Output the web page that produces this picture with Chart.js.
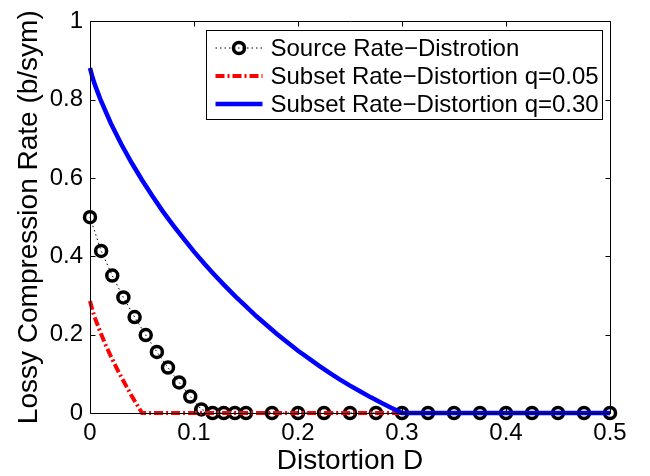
<!DOCTYPE html>
<html>
<head>
<meta charset="utf-8">
<script src="https://cdn.jsdelivr.net/npm/chart.js@4.4.1/dist/chart.umd.min.js"></script>
<style>
  html, body { margin: 0; padding: 0; background: #fff; }
  #wrap { width: 650px; height: 476px; }
</style>
</head>
<body>
<div id="wrap"><canvas id="c" width="650" height="476"></canvas></div>
<script>
// ---- data ----
const xTickValues = [0, 0.1, 0.2, 0.3, 0.4, 0.5];
const yTickValues = [0, 0.2, 0.4, 0.6, 0.8, 1];

const seriesLabels = [
  'Source Rate\u2212Distrotion',
  'Subset Rate\u2212Distortion q=0.05',
  'Subset Rate\u2212Distortion q=0.30'
];

const sourceD = [0, 0.0107, 0.0214, 0.0321, 0.0429, 0.0536, 0.0643, 0.075, 0.0857, 0.0964,
  0.1071, 0.1179, 0.1286, 0.1393, 0.15, 0.175, 0.2, 0.225, 0.25, 0.275, 0.3, 0.325, 0.35,
  0.375, 0.4, 0.425, 0.45, 0.475, 0.5];
const sourceR = [0.5, 0.414, 0.351, 0.295, 0.245, 0.199, 0.156, 0.116, 0.078, 0.042,
  0.009, 0, 0, 0, 0, 0, 0, 0, 0, 0, 0, 0, 0, 0, 0, 0, 0, 0, 0];

const q05D = [0, 0.0025, 0.005, 0.01, 0.015, 0.02, 0.025, 0.03, 0.035, 0.04, 0.045, 0.05, 0.5];
const q05R = [0.286, 0.261, 0.241, 0.206, 0.174, 0.145, 0.118, 0.092, 0.068, 0.044, 0.022, 0, 0];

const q30D = [0, 0.0025, 0.005, 0.01, 0.02, 0.03, 0.04, 0.05, 0.06, 0.07, 0.08, 0.09, 0.10,
  0.11, 0.12, 0.13, 0.14, 0.15, 0.16, 0.17, 0.18, 0.19, 0.20, 0.21, 0.22, 0.23, 0.24, 0.25,
  0.26, 0.27, 0.28, 0.29, 0.30, 0.5];
const q30R = [0.881, 0.856, 0.836, 0.801, 0.740, 0.687, 0.639, 0.595, 0.554, 0.515, 0.479,
  0.445, 0.412, 0.381, 0.352, 0.324, 0.297, 0.272, 0.247, 0.224, 0.201, 0.180, 0.159, 0.140,
  0.121, 0.103, 0.086, 0.070, 0.055, 0.040, 0.026, 0.013, 0, 0];

// ---- helpers ----
const FONT = "'Liberation Sans', Arial, Helvetica, sans-serif";
const pts = (xs, ys) => xs.map((x, i) => ({ x: x, y: ys[i] }));
const fmt = v => String(+Number(v).toFixed(2));

// frame with inward ticks on all four sides (MATLAB style)
const framePlugin = {
  id: 'frame',
  afterDatasetsDraw(chart) {
    const { ctx, chartArea: a, scales } = chart;
    const L = Math.round(a.left) + 0.5, R = Math.round(a.right) + 0.5;
    const T = Math.round(a.top) + 0.5, B = Math.round(a.bottom) + 0.5;
    const tl = 5;
    ctx.save();
    ctx.strokeStyle = '#000';
    ctx.lineWidth = 1;
    ctx.setLineDash([]);
    ctx.beginPath();
    ctx.rect(L, T, R - L, B - T);
    xTickValues.forEach(v => {
      const px = Math.round(scales.x.getPixelForValue(v)) + 0.5;
      ctx.moveTo(px, B); ctx.lineTo(px, B - tl);
      ctx.moveTo(px, T); ctx.lineTo(px, T + tl);
    });
    yTickValues.forEach(v => {
      const py = Math.round(scales.y.getPixelForValue(v)) + 0.5;
      ctx.moveTo(L, py); ctx.lineTo(L + tl, py);
      ctx.moveTo(R, py); ctx.lineTo(R - tl, py);
    });
    ctx.stroke();
    ctx.restore();
  }
};

// legend box inside the plot, top-right
const boxLegend = {
  id: 'boxLegend',
  afterDraw(chart) {
    const { ctx, chartArea: a } = chart;
    const w = 396, h = 89;
    const x0 = Math.round(a.right) - 8 - w + 0.5;
    const y0 = Math.round(a.top) + 9 + 0.5;
    ctx.save();
    ctx.fillStyle = '#fff';
    ctx.fillRect(x0, y0, w, h);
    ctx.strokeStyle = '#000';
    ctx.lineWidth = 1;
    ctx.setLineDash([]);
    ctx.strokeRect(x0, y0, w, h);
    const rows = [17, 45, 73];
    const sx0 = x0 + 9, sx1 = x0 + 56, tx = x0 + 64;
    chart.data.datasets.forEach((ds, i) => {
      const yy = Math.round(y0 + rows[i]);
      ctx.save();
      ctx.strokeStyle = ds.borderColor;
      ctx.lineWidth = ds.borderWidth;
      ctx.setLineDash(ds.borderDash || []);
      ctx.beginPath();
      ctx.moveTo(sx0, yy);
      ctx.lineTo(sx1, yy);
      ctx.stroke();
      if (ds.pointRadius > 0) {
        ctx.setLineDash([]);
        ctx.lineWidth = ds.pointBorderWidth;
        ctx.strokeStyle = ds.pointBorderColor;
        ctx.beginPath();
        ctx.arc((sx0 + sx1) / 2, yy, ds.pointRadius, 0, Math.PI * 2);
        ctx.stroke();
      }
      ctx.restore();
      ctx.fillStyle = '#000';
      ctx.font = '24px ' + FONT;
      ctx.textAlign = 'left';
      ctx.textBaseline = 'middle';
      ctx.fillText(ds.label, tx, yy + 1);
    });
    ctx.restore();
  }
};

const ctx = document.getElementById('c').getContext('2d');
new Chart(ctx, {
  type: 'scatter',
  data: {
    datasets: [
      {
        label: seriesLabels[0],
        data: pts(sourceD, sourceR),
        showLine: true,
        borderColor: '#000',
        borderWidth: 1,
        borderDash: [1.5, 3],
        pointRadius: 5.5,
        pointBorderWidth: 3.5,
        pointBorderColor: '#000',
        pointBackgroundColor: 'rgba(0,0,0,0)',
        pointHoverRadius: 5.5,
        clip: false,
        order: 3
      },
      {
        label: seriesLabels[1],
        data: pts(q05D, q05R),
        showLine: true,
        borderColor: '#ff0000',
        borderWidth: 4,
        borderDash: [9, 3, 2, 3],
        pointRadius: 0,
        clip: 4,
        order: 2
      },
      {
        label: seriesLabels[2],
        data: pts(q30D, q30R),
        showLine: true,
        borderColor: '#0000ff',
        borderWidth: 4.5,
        pointRadius: 0,
        clip: 4,
        order: 1
      }
    ]
  },
  options: {
    responsive: false,
    animation: false,
    devicePixelRatio: 1,
    layout: { padding: { left: 0, right: 40, top: 11, bottom: 0 } },
    elements: { line: { tension: 0, borderCapStyle: 'butt' } },
    plugins: { legend: { display: false }, tooltip: { enabled: false } },
    scales: {
      x: {
        type: 'linear',
        min: 0, max: 0.5,
        afterBuildTicks: s => { s.ticks = xTickValues.map(v => ({ value: v })); },
        ticks: { color: '#000', font: { family: FONT, size: 24 }, padding: 6, maxRotation: 0, autoSkip: false, callback: fmt },
        grid: { display: false, drawTicks: false },
        border: { display: false },
        title: { display: true, text: 'Distortion D', color: '#000', font: { family: FONT, size: 28, lineHeight: 1 }, padding: { top: 0, bottom: 1 } },
        afterFit: s => { s.height = 63; }
      },
      y: {
        type: 'linear',
        min: 0, max: 1,
        afterBuildTicks: s => { s.ticks = yTickValues.map(v => ({ value: v })); },
        ticks: { color: '#000', font: { family: FONT, size: 24 }, padding: 7, autoSkip: false, callback: fmt },
        grid: { display: false, drawTicks: false },
        border: { display: false },
        title: { display: true, text: 'Lossy Compression Rate (b/sym)', color: '#000', font: { family: FONT, size: 28, lineHeight: 1 }, padding: { top: 15, bottom: 0 } },
        afterFit: s => { s.width = 90; }
      }
    }
  },
  plugins: [framePlugin, boxLegend]
});
</script>
</body>
</html>
